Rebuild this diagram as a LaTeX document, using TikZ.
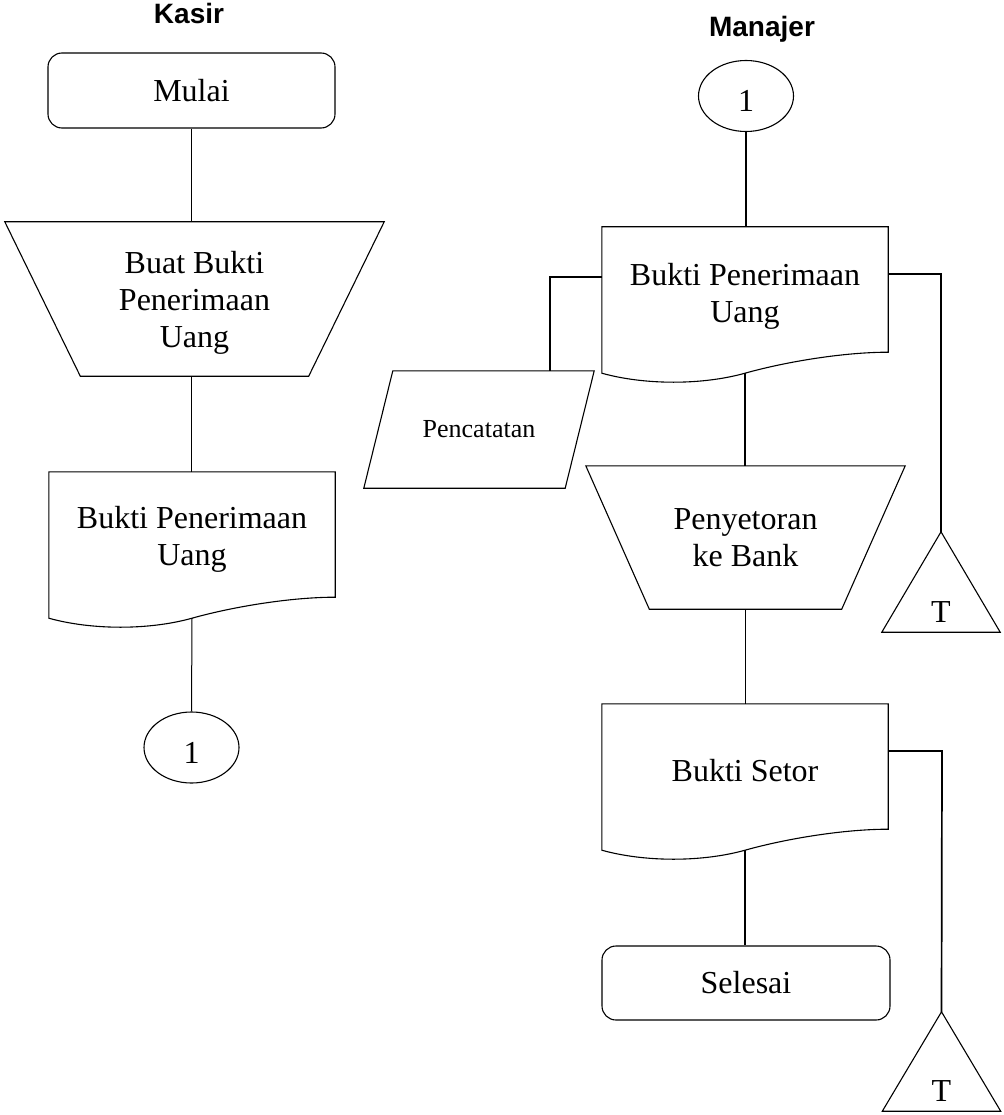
\documentclass[tikz,border=0pt]{standalone}
\usepackage{fontspec}
\setmainfont{Liberation Serif}
\newfontfamily\titlefont{Liberation Sans}
\usetikzlibrary{calc,shapes.geometric}
\newcommand\docpath[1]{%
  \draw[shapeline] ($(#1.south west)+(0,12)$) -- (#1.north west) -- (#1.north east) -- ($(#1.south east)+(0,-9)$)
    .. controls ($(#1.south)+(100.1,-9)$) and ($(#1.south)+(42.9,0)$) .. ($(#1.south)+(0,12)$)
    .. controls ($(#1.south)+(-42.9,24)$) and ($(#1.south)+(-100.1,24)$) .. ($(#1.south west)+(0,12)$) -- cycle;}
\begin{document}
\begin{tikzpicture}[x=1pt,y=-1pt,
  shapeline/.style={draw=black,line width=1.1pt,line join=miter},
  lconn/.style={draw=black,line width=1pt},
  rconn/.style={draw=black,line width=1.7pt},
  mainfont/.style={font=\fontsize{32}{37}\selectfont},
  box/.style={rectangle, inner sep=0pt, mainfont, align=center},
  term/.style={box, draw, line width=1.1pt, rounded corners=14pt, minimum width=287pt, minimum height=75pt},
  conn/.style={ellipse, draw, line width=1.1pt, inner sep=0pt, minimum width=95pt, minimum height=71pt, mainfont, text height=31pt, text depth=0pt},
  docbox/.style={box, minimum width=286pt, minimum height=134pt},
  tri/.style={rectangle, inner sep=0pt, mainfont, minimum width=118pt, minimum height=100pt, text height=80pt, text depth=0pt},
  ktitle/.style={font=\titlefont\bfseries\fontsize{28}{32}\selectfont, anchor=base, inner sep=0pt}
]
\useasboundingbox (0,0) rectangle (1003,1115);

% titles
\node[ktitle] (kasir) at (189,24) {Kasir};
\node[ktitle] (manajer) at (762,37) {Manajer};

% Kasir column
\node[term] (mulai) at (191.5,90.5) {Mulai};
\node[box, minimum width=379pt, minimum height=154pt] (buat) at (194.5,299) {\rule{0pt}{29pt}Buat Bukti\\Penerimaan\\Uang};
\draw[shapeline] (buat.north west) -- (buat.north east) -- ($(buat.south east)+(-75.5,0)$) -- ($(buat.south west)+(75.5,0)$) -- cycle;
\node[docbox] (bpu1) at (192,539) {Bukti Penerimaan\\Uang};
\docpath{bpu1}
\node[conn] (c1) at (191.5,747.5) {1};

\draw[lconn] (mulai.south) -- (mulai.south |- buat.north);
\draw[lconn] (mulai.south |- buat.south) -- (mulai.south |- bpu1.north);
\draw[lconn] ($(bpu1.south)+(0,12)$) -- (c1.north);

% Manajer column
\node[conn] (c2) at (746,96) {1};
\node[docbox] (bpu2) at (745,294) {\rule{0pt}{26pt}Bukti Penerimaan\\Uang};
\docpath{bpu2}
\node[box, minimum width=230pt, minimum height=117pt, font=\fontsize{26}{30}\selectfont] (catat) at (479,429.5) {Pencatatan};
\draw[shapeline] ($(catat.north west)+(29,0)$) -- (catat.north east) -- ($(catat.south east)+(-29,0)$) -- (catat.south west) -- cycle;
\node[box, minimum width=319pt, minimum height=143pt] (setor) at (745.5,537.5) {Penyetoran\\ke Bank};
\draw[shapeline] (setor.north west) -- (setor.north east) -- ($(setor.south east)+(-63.5,0)$) -- ($(setor.south west)+(63.5,0)$) -- cycle;
\node[docbox] (bs) at (745,771) {Bukti Setor};
\docpath{bs}
\node[term, minimum width=288pt, minimum height=74pt] (selesai) at (746,983) {Selesai};
\node[tri] (t1) at (941,582) {T};
\draw[shapeline] (t1.north) -- (t1.south east) -- (t1.south west) -- cycle;
\node[tri, minimum height=99pt] (t2) at (941.5,1061.5) {T};
\draw[shapeline] (t2.north) -- (t2.south east) -- (t2.south west) -- cycle;

\draw[rconn] (c2.south) -- (c2.south |- bpu2.north);
\draw[rconn] ($(bpu2.south)+(0,12)$) -- (bpu2.south |- setor.north);
\draw[rconn] (setor.south) -- (setor.south |- bs.north);
\draw[rconn] ($(bs.south)+(0,12)$) -- (bs.south |- selesai.north);

\coordinate (lj) at (550,277);
\draw[rconn] (bpu2.west |- lj) -- (lj) -- (lj |- catat.north);
\coordinate (rj1) at (941,274);
\draw[rconn] (bpu2.east |- rj1) -- (rj1) -- (t1.north);
\coordinate (rj2) at (942,751);
\draw[rconn] (bs.east |- rj2) -- (rj2) -- (t2.north);
\end{tikzpicture}
\end{document}
